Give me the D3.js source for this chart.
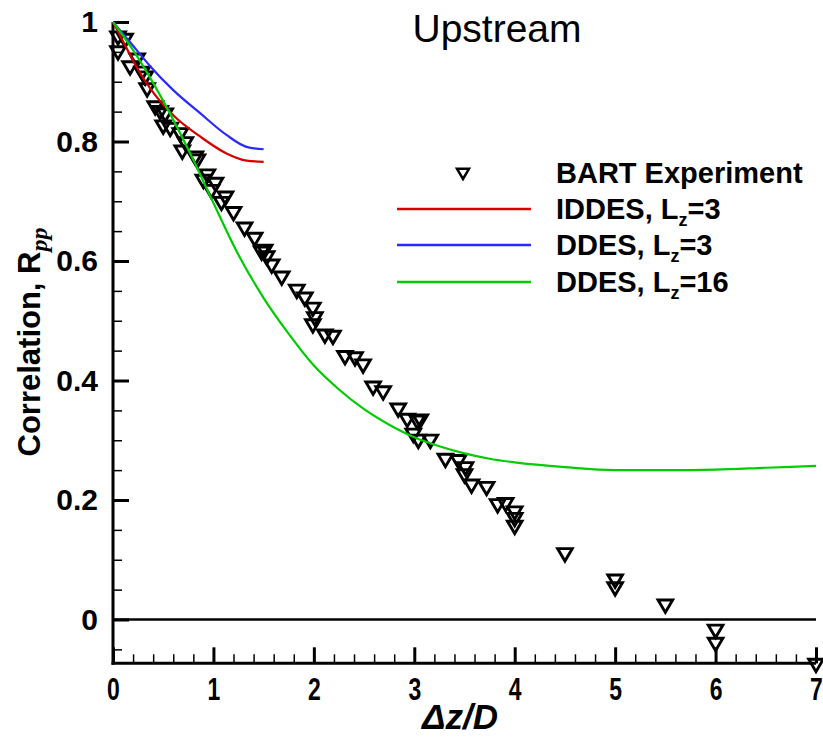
<!DOCTYPE html>
<html>
<head>
<meta charset="utf-8">
<script src="https://cdn.jsdelivr.net/npm/d3@7"></script>
<style>
  body { margin: 0; background: #fff; }
  text { font-family: "Liberation Sans", Arial, sans-serif; }
</style>
</head>
<body>
<svg id="chart" width="823" height="737"></svg>
<script>
// experiment points (dz/D, Rpp)
var expX = [0.05,0.12,0.05,0.17,0.24,0.29,0.32,0.34,0.42,0.47,0.52,0.50,0.57,0.67,0.69,0.72,0.82,0.84,0.94,0.90,1.02,0.98,1.12,1.08,1.20,1.31,1.41,1.48,1.51,1.53,1.58,1.68,1.83,1.91,1.99,2.01,1.99,2.11,2.19,2.31,2.41,2.49,2.59,2.69,2.84,2.93,3.03,2.99,3.06,3.16,3.04,3.31,3.44,3.51,3.50,3.57,3.72,3.83,3.91,4.0,4.0,4.0,4.5,5.0,5.0,5.5,6.0,6.0,7.0];
var expY = [0.975,0.971,0.95,0.925,0.938,0.916,0.908,0.888,0.858,0.850,0.846,0.826,0.822,0.813,0.784,0.798,0.774,0.769,0.744,0.735,0.730,0.718,0.707,0.698,0.681,0.655,0.638,0.615,0.618,0.607,0.593,0.573,0.551,0.538,0.521,0.505,0.493,0.476,0.474,0.440,0.438,0.426,0.389,0.381,0.352,0.335,0.332,0.310,0.334,0.300,0.300,0.268,0.266,0.254,0.242,0.225,0.221,0.192,0.194,0.180,0.169,0.156,0.110,0.066,0.053,0.024,-0.018,-0.040,-0.075];

// IDDES, Lz=3
var iddesX = [0,0.05,0.136,0.25,0.37,0.60,0.87,1.13,1.33,1.5];
var iddesY = [1,0.984,0.956,0.920,0.889,0.844,0.808,0.780,0.768,0.766];
// DDES, Lz=3
var ddes3X = [0,0.136,0.25,0.37,0.60,0.87,1.13,1.33,1.5];
var ddes3Y = [1,0.973,0.950,0.926,0.886,0.847,0.811,0.791,0.787];
// DDES, Lz=16
var ddes16X = [0,0.2,0.5,0.8,1.0,1.25,1.5,1.75,2.0,2.25,2.5,2.75,3.0,3.25,3.5,3.75,4.0,4.5,5.0,5.5,6.0,6.5,7.0];
var ddes16Y = [1,0.953,0.868,0.769,0.697,0.610,0.538,0.478,0.425,0.385,0.352,0.326,0.305,0.290,0.278,0.269,0.263,0.255,0.250,0.250,0.251,0.254,0.257];

var seriesNames = ["IDDES, L", "DDES, L", "DDES, L"];
var seriesSubs = ["=3", "=3", "=16"];
var seriesColors = ["#d40000", "#2a2aff", "#00cc00"];
var xTicks = [0,1,2,3,4,5,6,7];
var yTicks = [0,0.2,0.4,0.6,0.8,1];

var svg = d3.select("#chart");
var x = d3.scaleLinear().domain([0, 7]).range([113, 816]);
var y = d3.scaleLinear().domain([-0.0733, 1]).range([663.3, 22]);

// zero line
svg.append("line")
  .attr("x1", x(0)).attr("x2", x(7))
  .attr("y1", y(0)).attr("y2", y(0))
  .attr("stroke", "#000").attr("stroke-width", 2.5);

// minor ticks
svg.append("g").attr("transform", "translate(" + x(0) + ",0)")
  .call(d3.axisLeft(y).tickValues(d3.range(-0.05, 1.001, 0.05)).tickSize(-9).tickFormat(""))
  .call(function(g){ g.select(".domain").remove(); g.selectAll("line").attr("stroke-width", 1.5); });
svg.append("g").attr("transform", "translate(0," + y.range()[0] + ")")
  .call(d3.axisBottom(x).tickValues(d3.range(0, 7.001, 0.2)).tickSize(-9).tickFormat(""))
  .call(function(g){ g.select(".domain").remove(); g.selectAll("line").attr("stroke-width", 1.5); });

// major y axis
var ya = svg.append("g").attr("transform", "translate(" + x(0) + ",0)")
  .call(d3.axisLeft(y).tickValues(yTicks).tickSize(-16).tickPadding(15)
    .tickFormat(function(d){ return d === 0 ? "0" : (d === 1 ? "1" : d3.format(".1f")(d)); }));
ya.select(".domain").attr("stroke-width", 3).attr("d", "M0," + y(1) + "V" + (y.range()[0] + 1.5));
ya.selectAll("line").attr("stroke-width", 3);
ya.selectAll("text").attr("font-size", 30).attr("font-weight", "bold")
  .attr("font-family", "Liberation Sans, Arial, sans-serif").attr("fill", "#000");

// major x axis
var xa = svg.append("g").attr("transform", "translate(0," + y.range()[0] + ")")
  .call(d3.axisBottom(x).tickValues(xTicks).tickSize(-16).tickPadding(0).tickFormat(d3.format("d")));
xa.select(".domain").attr("stroke-width", 3).attr("d", "M" + (x(0) - 1.5) + ",0H" + x(7));
xa.selectAll("line").attr("stroke-width", 3);
xa.selectAll(".tick text")
  .attr("y", null).attr("dy", null)
  .attr("font-size", 27).attr("font-weight", "bold")
  .attr("font-family", "Liberation Sans, Arial, sans-serif").attr("fill", "#000")
  .attr("transform", "translate(0,37) scale(0.85,1.15)");

// experiment markers
function tri(px, py, s) {
  return "M" + (px - s) + "," + (py - s * 0.7) + "L" + (px + s) + "," + (py - s * 0.7) +
    "L" + px + "," + (py + s) + "Z";
}
var expData = expX.map(function(v, i){ return [v, expY[i]]; });
svg.append("g").selectAll("path").data(expData).enter().append("path")
  .attr("d", function(d){ return tri(x(d[0]), y(d[1]), 7.3); })
  .attr("fill", "none").attr("stroke", "#000").attr("stroke-width", 2.9)
  .attr("stroke-linejoin", "miter");

// simulation curves
var line = d3.line().x(function(d){ return x(d[0]); }).y(function(d){ return y(d[1]); })
  .curve(d3.curveMonotoneX);
var curves = [
  iddesX.map(function(v, i){ return [v, iddesY[i]]; }),
  ddes3X.map(function(v, i){ return [v, ddes3Y[i]]; }),
  ddes16X.map(function(v, i){ return [v, ddes16Y[i]]; })
];
svg.append("g").selectAll("path").data(curves).enter().append("path")
  .attr("d", line).attr("fill", "none")
  .attr("stroke", function(d, i){ return seriesColors[i]; })
  .attr("stroke-width", 2.2);

// title
svg.append("text").attr("x", 497).attr("y", 42).attr("text-anchor", "middle")
  .attr("font-size", 39).text("Upstream");

// legend
var lg = svg.append("g");
lg.append("path").attr("d", tri(463, 173, 6)).attr("fill", "none")
  .attr("stroke", "#000").attr("stroke-width", 2.5);
lg.append("text").attr("x", 556).attr("y", 183).attr("font-size", 29)
  .attr("font-weight", "bold").text("BART Experiment");
var rows = [209, 245, 282];
rows.forEach(function(ry, i){
  lg.append("line").attr("x1", 397).attr("x2", 531).attr("y1", ry).attr("y2", ry)
    .attr("stroke", seriesColors[i]).attr("stroke-width", 2.5);
  var t = lg.append("text").attr("x", 556).attr("y", ry + 10).attr("font-size", 29)
    .attr("font-weight", "bold");
  t.append("tspan").text(seriesNames[i]);
  t.append("tspan").attr("font-size", 18).attr("dy", 7).text("z");
  t.append("tspan").attr("dy", -7).text(seriesSubs[i]);
});

// axis titles
var yt = svg.append("text").attr("transform", "translate(40,342) rotate(-90)")
  .attr("text-anchor", "middle").attr("font-size", 31).attr("font-weight", "bold");
yt.append("tspan").text("Correlation, R");
yt.append("tspan").attr("dy", 7).attr("font-size", 24).attr("font-style", "italic")
  .attr("font-family", "Liberation Serif, Times New Roman, serif").text("pp");

svg.append("text").attr("x", 460).attr("y", 729).attr("text-anchor", "middle")
  .attr("font-size", 35).attr("font-weight", "bold").attr("font-style", "italic")
  .attr("font-family", "Liberation Serif, Times New Roman, serif").text("\u0394z/D");
</script>
</body>
</html>
